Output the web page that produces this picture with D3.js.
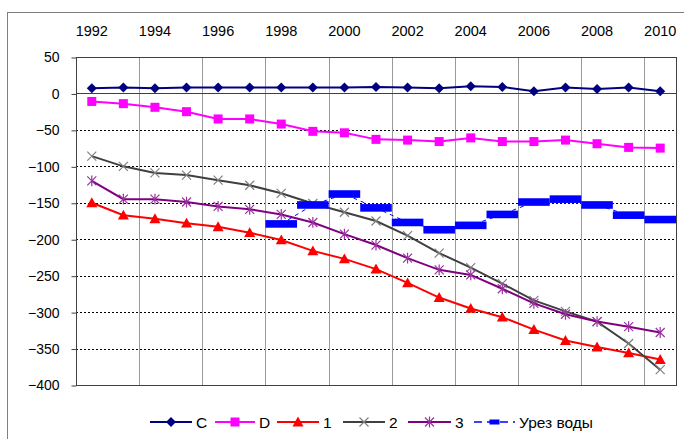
<!DOCTYPE html>
<html><head><meta charset="utf-8">
<script src="https://cdn.jsdelivr.net/npm/d3@7"></script>
<style>body{margin:0;background:#fff}svg{display:block}text{font-family:"Liberation Sans",Arial,sans-serif}</style>
</head><body>
<svg id="c" width="684" height="439"></svg>
<script>
const years = [1992,1993,1994,1995,1996,1997,1998,1999,2000,2001,2002,2003,2004,2005,2006,2007,2008,2009,2010];
const yTicks = [50,0,-50,-100,-150,-200,-250,-300,-350,-400];
const seriesC = [7,8,7,8,8,8,8,8,8,9,8,7,10,9,3,8,6,8,3];
const seriesD = [-11,-14,-19,-25,-35,-35,-42,-52,-54,-63,-64,-66,-61,-66,-66,-64,-69,-74,-75];
const series1 = [-150,-167,-172,-178,-183,-191,-201,-216,-227,-241,-260,-280,-295,-307,-324,-339,-348,-356,-365];
const series2 = [-86,-100,-109,-112,-119,-126,-137,-151,-163,-175,-195,-219,-239,-261,-284,-299,-313,-343,-379];
const series3 = [-120,-145,-145,-149,-155,-159,-166,-177,-193,-208,-226,-242,-249,-268,-288,-303,-313,-320,-328];
const seriesWater = [null,null,null,null,null,null,-179,-153,-138,-157,-177,-187,-181,-166,-149,-145,-153,-167,-173];
const legendNames = ["C","D","1","2","3","Урез воды"];

const svg = d3.select("#c");
const L=76, R=676, T=57, B=385;
const x = d3.scaleBand().domain(years).range([L,R]).padding(0);
const bw = x.bandwidth();
const cx = yr => x(yr) + bw/2;
const y = d3.scaleLinear().domain([-400,50]).range([B,T]);

// outer border
svg.append("rect").attr("x",7.5).attr("y",12.5).attr("width",700).attr("height",460)
  .attr("fill","none").attr("stroke","#808080").attr("stroke-width",1);

// horizontal gridlines
svg.append("g").selectAll("line").data(yTicks.filter(v=>v<0 && v>-400)).join("line")
  .attr("x1",L).attr("x2",R).attr("y1",d=>Math.round(y(d))+0.5).attr("y2",d=>Math.round(y(d))+0.5)
  .attr("stroke","#000").attr("stroke-width",1).attr("stroke-dasharray","2,2");

// vertical gridlines
svg.append("g").selectAll("line").data(years.filter((d,i)=>i>0 && i%2===0)).join("line")
  .attr("x1",d=>Math.round(x(d))+0.5).attr("x2",d=>Math.round(x(d))+0.5).attr("y1",T).attr("y2",B)
  .attr("stroke","#9a9a9a").attr("stroke-width",1);

// plot border
svg.append("rect").attr("x",L+0.5).attr("y",T+0.5).attr("width",R-L).attr("height",B-T)
  .attr("fill","none").attr("stroke","#404040").attr("stroke-width",1);

// zero line (category axis)
svg.append("line").attr("x1",L).attr("x2",R).attr("y1",Math.round(y(0))+0.5).attr("y2",Math.round(y(0))+0.5)
  .attr("stroke","#404040").attr("stroke-width",1);

// y axis
const yAxis = d3.axisLeft(y).tickValues(yTicks).tickSize(5).tickPadding(12).tickFormat(d3.format("d"));
const ga = svg.append("g").attr("transform",`translate(${L+0.5},0.5)`).call(yAxis);
ga.select(".domain").remove();
ga.selectAll(".tick line").attr("stroke","#404040");
ga.selectAll("text").attr("font-size",14).attr("fill","#000").attr("font-family","Liberation Sans, Arial, sans-serif");

// top labels
svg.append("g").selectAll("text").data(years.filter((d,i)=>i%2===0)).join("text")
  .attr("x",d=>cx(d)).attr("y",36).attr("text-anchor","middle").attr("font-size",14.5).text(d=>d);

// markers
function marker(g, type, color, px, py, s){
  if(type==="diamond"){
    g.append("path").attr("d",`M${px},${py-s}L${px+s},${py}L${px},${py+s}L${px-s},${py}Z`).attr("fill",color);
  } else if(type==="square"){
    g.append("rect").attr("x",px-s).attr("y",py-s).attr("width",2*s).attr("height",2*s).attr("fill",color);
  } else if(type==="triangle"){
    g.append("path").attr("d",`M${px},${py-s}L${px+s},${py+s*0.8}L${px-s},${py+s*0.8}Z`).attr("fill",color);
  } else if(type==="x"){
    g.append("path").attr("d",`M${px-s},${py-s}L${px+s},${py+s}M${px+s},${py-s}L${px-s},${py+s}`).attr("stroke",color).attr("stroke-width",1.2);
  } else if(type==="star"){
    g.append("path").attr("d",`M${px-s},${py-s}L${px+s},${py+s}M${px+s},${py-s}L${px-s},${py+s}M${px},${py-s*1.2}L${px},${py+s*1.2}`).attr("stroke",color).attr("stroke-width",1.2);
  }
}

const specs = [
  {vals:seriesC, color:"#000080", mcolor:"#000080", type:"diamond", s:5},
  {vals:seriesD, color:"#FF00FF", mcolor:"#FF00FF", type:"square", s:4.5},
  {vals:series1, color:"#FF0000", mcolor:"#FF0000", type:"triangle", s:5.5},
  {vals:series2, color:"#404040", mcolor:"#808080", type:"x", s:4.5},
  {vals:series3, color:"#800080", mcolor:"#9933A0", type:"star", s:4.5}
];
const line = d3.line().defined(d=>d[1]!=null).x(d=>cx(d[0])).y(d=>y(d[1]));
specs.forEach(sp=>{
  const g = svg.append("g");
  const pts = years.map((yr,i)=>[yr,sp.vals[i]]);
  g.append("path").datum(pts).attr("d",line).attr("fill","none").attr("stroke",sp.color).attr("stroke-width",2);
  pts.forEach(p=>marker(g,sp.type,sp.mcolor,cx(p[0]),y(p[1]),sp.s));
});

// water level
{
  const g = svg.append("g");
  const pts = years.map((yr,i)=>[yr,seriesWater[i]]).filter(p=>p[1]!=null);
  g.append("path").datum(pts).attr("d",line).attr("fill","none").attr("stroke","#0000FF").attr("stroke-width",1).attr("stroke-dasharray","4,4");
  g.selectAll("rect").data(pts).join("rect")
    .attr("x",d=>x(d[0])).attr("width",bw).attr("y",d=>y(d[1])-3.8).attr("height",7.6).attr("fill","#0000FF");
}

// legend
const lg = svg.append("g");
const legendItems = [
  {x:150, w:42, color:"#000080", mcolor:"#000080", type:"diamond", s:5},
  {x:215, w:40, color:"#FF00FF", mcolor:"#FF00FF", type:"square", s:4.5},
  {x:277, w:42, color:"#FF0000", mcolor:"#FF0000", type:"triangle", s:5.5},
  {x:343, w:42, color:"#404040", mcolor:"#808080", type:"x", s:4.5},
  {x:408, w:43, color:"#800080", mcolor:"#9933A0", type:"star", s:4.5},
  {x:474, w:41, color:"#0000FF", mcolor:"#0000FF", type:"water", s:0}
];
const ly = 422;
legendItems.forEach((it,i)=>{
  if(it.type==="water"){
    lg.append("line").attr("x1",it.x).attr("x2",it.x+it.w).attr("y1",ly).attr("y2",ly)
      .attr("stroke",it.color).attr("stroke-width",1.5).attr("stroke-dasharray","8,5");
    lg.append("rect").attr("x",it.x+it.w/2-5).attr("y",ly-2.5).attr("width",10).attr("height",5).attr("fill",it.mcolor);
  } else {
    lg.append("line").attr("x1",it.x).attr("x2",it.x+it.w).attr("y1",ly).attr("y2",ly).attr("stroke",it.color).attr("stroke-width",2);
    marker(lg,it.type,it.mcolor,it.x+it.w/2,ly,it.s);
  }
  lg.append("text").attr("x",it.x+it.w+4).attr("y",ly+5.5).attr("font-size",15.5).text(legendNames[i]);
});
</script>
</body></html>
